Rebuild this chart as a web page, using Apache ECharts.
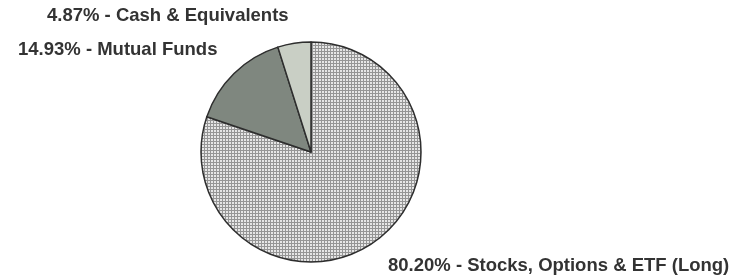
<!DOCTYPE html>
<html>
<head>
<meta charset="utf-8">
<script src="https://cdn.jsdelivr.net/npm/echarts@6/dist/echarts.min.js"></script>
<style>
  html, body { margin: 0; padding: 0; background: #fff; }
  #chart { width: 738px; height: 280px; }
</style>
</head>
<body>
<div id="chart"></div>
<script>
// holdings, clockwise from 12 o'clock
const names = ['Stocks, Options & ETF (Long)', 'Mutual Funds', 'Cash & Equivalents'];
const shares = [80.20, 14.93, 4.87];

// grid hatch used for the big slice
function gridPattern() {
  const c = document.createElement('canvas');
  c.width = 3; c.height = 3;
  const ctx = c.getContext('2d');
  ctx.fillStyle = '#e6e6e6';
  ctx.fillRect(0, 0, 3, 3);
  ctx.fillStyle = '#959595';
  ctx.fillRect(0, 0, 3, 1);
  ctx.fillRect(0, 0, 1, 3);
  return c;
}

const fills = [
  { image: gridPattern(), repeat: 'repeat' },
  '#7f877f',
  '#c9cfc5'
];
// label spots (left x, middle y)
const labelPos = [[388, 266], [18, 50], [47, 16]];

const chart = echarts.init(document.getElementById('chart'));
chart.setOption({
  animation: false,
  series: [{
    type: 'pie',
    center: [311, 152],
    radius: 110,
    startAngle: 90,
    clockwise: true,
    data: names.map((n, i) => ({
      name: n,
      value: shares[i],
      itemStyle: { color: fills[i] }
    })),
    itemStyle: { borderColor: '#2e2e2e', borderWidth: 1.5 },
    label: {
      show: true,
      position: 'inside',
      overflow: 'none',
      formatter: p => p.value.toFixed(2) + '% - ' + p.name,
      fontFamily: 'Liberation Sans, Arial, sans-serif',
      fontWeight: 'bold',
      fontSize: 18.5,
      color: '#333'
    },
    labelLine: { show: false },
    labelLayout: p => ({
      x: labelPos[p.dataIndex][0],
      y: labelPos[p.dataIndex][1],
      align: 'left',
      verticalAlign: 'middle'
    })
  }]
});
</script>
</body>
</html>
